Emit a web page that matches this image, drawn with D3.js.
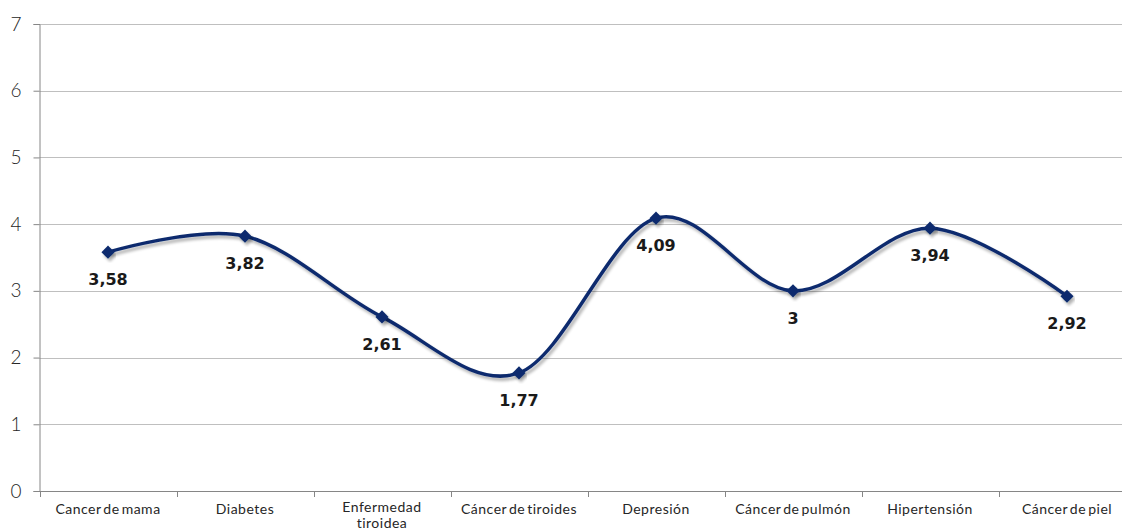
<!DOCTYPE html>
<html><head><meta charset="utf-8">
<script src="https://cdn.jsdelivr.net/npm/d3@7"></script>
<style>body{margin:0;background:#fff}svg{display:block}</style>
</head><body>
<svg id="c" width="1122" height="532"></svg>
<script>
const categories = ["Cancer de mama","Diabetes","Enfermedad tiroidea","Cáncer de tiroides","Depresión","Cáncer de pulmón","Hipertensión","Cáncer de piel"];
const values = [3.58,3.82,2.61,1.77,4.09,3.00,3.94,2.92];
const labels = ["3,58","3,82","2,61","1,77","4,09","3","3,94","2,92"];
const yTicks = [0,1,2,3,4,5,6,7];

(function(){
const svg = d3.select("#c");
const pL = 39.5, pR = 1135.5, pT = 24, pB = 491;
const x = d3.scaleBand().domain(categories).range([pL, pR]).paddingInner(0).paddingOuter(0);
const y = d3.scaleLinear().domain([0,7]).range([pB, pT]);

const defs = svg.append("defs");
const f = defs.append("filter").attr("id","sh").attr("x","-10%").attr("y","-20%").attr("width","120%").attr("height","150%");
f.append("feGaussianBlur").attr("in","SourceAlpha").attr("stdDeviation",1.6).attr("result","b");
f.append("feOffset").attr("in","b").attr("dx",2).attr("dy",3).attr("result","o");
f.append("feComponentTransfer").attr("in","o").attr("result","o2").append("feFuncA").attr("type","linear").attr("slope",0.3);
const m = f.append("feMerge"); m.append("feMergeNode").attr("in","o2"); m.append("feMergeNode").attr("in","SourceGraphic");

// gridlines
svg.append("g").selectAll("line").data(yTicks.filter(d=>d>0)).join("line")
  .attr("x1", pL).attr("x2", 1122).attr("y1", d=>Math.round(y(d))+0.5).attr("y2", d=>Math.round(y(d))+0.5)
  .attr("stroke","#bfbfbf").attr("stroke-width",1);

// y axis
const ya = svg.append("g").attr("transform",`translate(${pL},0)`)
  .call(d3.axisLeft(y).tickValues(yTicks).tickSize(6).tickPadding(12).tickFormat(d3.format("d")));
ya.select(".domain").attr("stroke","#868686");
ya.selectAll(".tick line").attr("stroke","#868686");
ya.selectAll(".tick text").attr("font-family","Lato, sans-serif").attr("font-weight",300).attr("font-size",19).attr("fill","#262626");

// x axis
const xa = svg.append("g").attr("transform",`translate(0,${pB+0.5})`)
  .call(d3.axisBottom(x).tickSize(0).tickPadding(0));
xa.select(".domain").attr("stroke","#868686").attr("d",`M${pL},0H1122`);
xa.selectAll(".tick").remove();
svg.append("g").selectAll("line").data(categories).join("line")
  .attr("x1", d=>Math.round(x(d))+0.5).attr("x2", d=>Math.round(x(d))+0.5)
  .attr("y1", pB).attr("y2", pB+6).attr("stroke","#868686");
const xl = svg.append("g").selectAll("text").data(categories).join("text")
  .attr("x", d=>x(d)+x.bandwidth()/2).attr("y", 514)
  .attr("text-anchor","middle").attr("font-family","Lato, sans-serif").attr("font-size",14).attr("fill","#262626")
  .attr("letter-spacing","0.5").attr("word-spacing","-2");
xl.each(function(d){
  const t = d3.select(this);
  if (d === "Enfermedad tiroidea") {
    t.attr("y", 512);
    t.append("tspan").attr("x", x(d)+x.bandwidth()/2).attr("dy",0).text("Enfermedad");
    t.append("tspan").attr("x", x(d)+x.bandwidth()/2).attr("dy",16).text("tiroidea");
  } else t.text(d);
});

// line
const pts = categories.map((c,i)=>[x(c)+x.bandwidth()/2, y(values[i])]);
svg.append("path").attr("d", d3.line().curve(d3.curveCatmullRom.alpha(0))(pts))
  .attr("fill","none").attr("stroke","#0f2c6e").attr("stroke-width",3.5).attr("filter","url(#sh)");

// markers
svg.append("g").selectAll("path").data(pts).join("path")
  .attr("d", d3.symbol().type(d3.symbolDiamond2).size(110))
  .attr("transform", d=>`translate(${d[0]},${d[1]})`)
  .attr("fill","#0f2c6e").attr("filter","url(#sh)");

// data labels
svg.append("g").selectAll("text").data(pts).join("text")
  .attr("x", d=>d[0]).attr("y", d=>d[1]+33)
  .attr("text-anchor","middle").attr("font-family","'DejaVu Sans', sans-serif").attr("font-weight","bold")
  .attr("font-size",16).attr("fill","#1a1a1a").text((d,i)=>labels[i]);
})();
</script>
</body></html>
